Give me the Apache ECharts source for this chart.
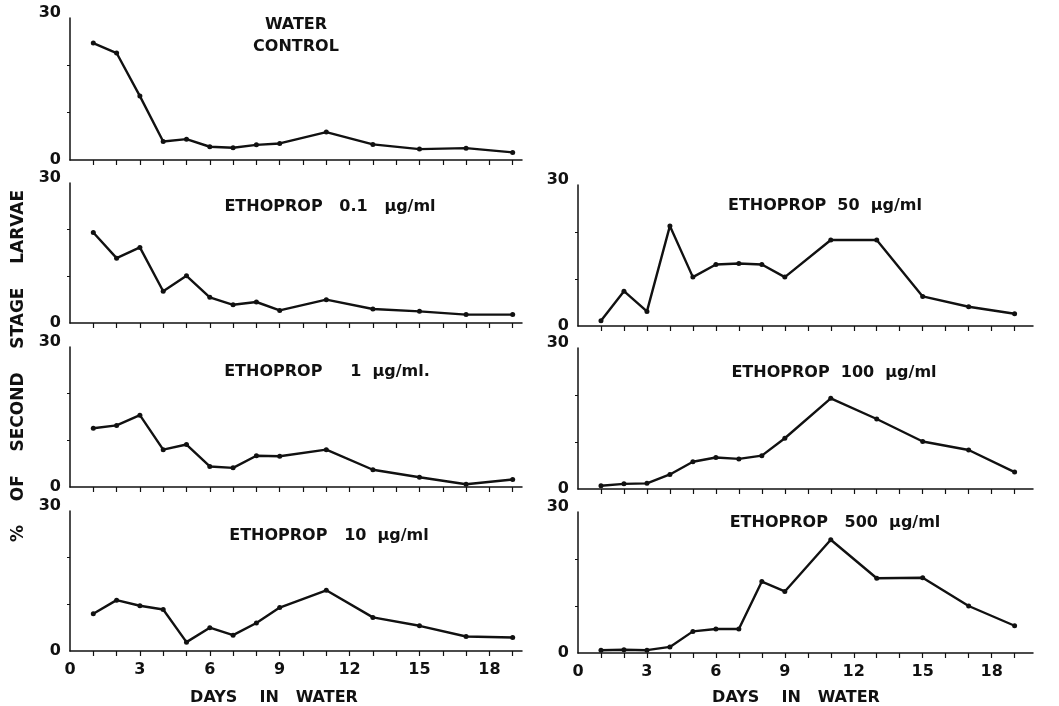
<!DOCTYPE html>
<html>
<head>
<meta charset="utf-8">
<script src="https://cdn.jsdelivr.net/npm/echarts@6/dist/echarts.min.js"></script>
<style>
  html, body { margin: 0; padding: 0; background: #fff; }
  #main { width: 1059px; height: 706px; }
</style>
</head>
<body>
<div id="main"></div>
<script>
// days sampled (same for every panel)
var days = [1, 2, 3, 4, 5, 6, 7, 8, 9, 11, 13, 15, 17, 19];

// % of second stage larvae
var waterControl = [24.7, 22.6, 13.5, 3.9, 4.4, 2.8, 2.6, 3.2, 3.5, 5.9, 3.3, 2.3, 2.5, 1.6];
var etho01 = [19.4, 13.9, 16.2, 6.8, 10.1, 5.5, 3.9, 4.5, 2.7, 5.0, 3.0, 2.5, 1.8, 1.8];
var etho1 = [12.6, 13.2, 15.4, 8.0, 9.1, 4.4, 4.1, 6.7, 6.6, 8.0, 3.7, 2.1, 0.6, 1.6];
var etho10 = [8.0, 10.9, 9.7, 8.9, 1.9, 5.0, 3.4, 6.0, 9.3, 13.0, 7.2, 5.4, 3.1, 2.9];
var etho50 = [1.1, 7.4, 3.1, 21.3, 10.4, 13.1, 13.3, 13.1, 10.4, 18.3, 18.3, 6.3, 4.1, 2.6];
var etho100 = [0.7, 1.1, 1.2, 3.1, 5.8, 6.7, 6.4, 7.1, 10.8, 19.3, 14.9, 10.1, 8.3, 3.6];
var etho500 = [0.6, 0.7, 0.6, 1.3, 4.6, 5.1, 5.1, 15.2, 13.1, 24.1, 15.9, 16.0, 10.0, 5.8];

var xTickValues = [1, 2, 3, 4, 5, 6, 7, 8, 9, 10, 11, 12, 13, 14, 15, 16, 17, 18, 19];
var xLabelValues = [0, 3, 6, 9, 12, 15, 18];
var yLabelValues = [0, 30];
var yTickValues = [10, 20];

var panelTitles = ['WATER\nCONTROL', 'ETHOPROP   0.1   µg/ml', 'ETHOPROP     1  µg/ml.',
    'ETHOPROP   10  µg/ml', 'ETHOPROP  50  µg/ml', 'ETHOPROP  100  µg/ml', 'ETHOPROP   500  µg/ml'];
var panelData = [waterControl, etho01, etho1, etho10, etho50, etho100, etho500];

var font = 'DejaVu Sans';
var ink = '#111';

// panel layout: [left, top, width, height, xMax, showXLabels]
var panels = [
    [70, 18, 452, 142, 19.4, false],
    [70, 183, 452, 140, 19.4, false],
    [70, 347, 452, 140, 19.4, false],
    [70, 511, 452, 140, 19.4, true],
    [578, 185, 455, 141, 19.8, false],
    [578, 348, 455, 141, 19.8, false],
    [578, 512, 455, 141, 19.8, true]
];
var titlePos = [[296, 14], [330, 198], [327, 363], [329, 527], [825, 197], [834, 364], [835, 514]];

var labelStyle = {color: ink, fontFamily: font, fontWeight: 'bold', fontSize: 16};

var grids = [], xAxes = [], yAxes = [], series = [], titles = [];
panels.forEach(function (p, i) {
    grids.push({left: p[0], top: p[1], width: p[2], height: p[3]});
    xAxes.push({
        type: 'value', gridIndex: i, min: 0, max: p[4],
        axisLine: {lineStyle: {color: ink, width: 1.5}},
        axisTick: {show: true, length: 5, customValues: xTickValues, lineStyle: {color: ink, width: 1.2}},
        axisLabel: {show: p[5], customValues: xLabelValues, color: ink, fontFamily: font,
            fontWeight: 'bold', fontSize: 16, margin: 11},
        splitLine: {show: false}
    });
    yAxes.push({
        type: 'value', gridIndex: i, min: 0, max: 30,
        axisLine: {show: true, lineStyle: {color: ink, width: 1.5}},
        axisTick: {show: true, length: 3, customValues: yTickValues, lineStyle: {color: ink}},
        axisLabel: {
            customValues: yLabelValues, margin: 9,
            formatter: function (v) { return v === 30 ? '{t|30}' : '{b|0}'; },
            rich: {
                t: Object.assign({padding: [0, 0, 11, 0]}, labelStyle),
                b: labelStyle
            }
        },
        splitLine: {show: false}
    });
    series.push({
        type: 'line', xAxisIndex: i, yAxisIndex: i,
        data: days.map(function (d, k) { return [d, panelData[i][k]]; }),
        symbol: 'circle', symbolSize: 5,
        lineStyle: {color: ink, width: 2.4},
        itemStyle: {color: ink},
        animation: false
    });
    titles.push({
        text: panelTitles[i], left: titlePos[i][0], top: titlePos[i][1],
        textAlign: 'center', padding: 0,
        textStyle: {color: ink, fontFamily: font, fontWeight: 'bold', fontSize: 16,
            lineHeight: i === 0 ? 22 : 18}
    });
});

titles.push({text: 'DAYS    IN   WATER', left: 274, top: 689, textAlign: 'center', padding: 0,
    textStyle: {color: ink, fontFamily: font, fontWeight: 'bold', fontSize: 16, lineHeight: 18}});
titles.push({text: 'DAYS    IN   WATER', left: 796, top: 689, textAlign: 'center', padding: 0,
    textStyle: {color: ink, fontFamily: font, fontWeight: 'bold', fontSize: 16, lineHeight: 18}});

var myChart = echarts.init(document.getElementById('main'));
var option = {
    backgroundColor: '#fff',
    animation: false,
    title: titles,
    grid: grids,
    xAxis: xAxes,
    yAxis: yAxes,
    series: series,
    graphic: [{
        type: 'text', x: 19, y: 366, rotation: Math.PI / 2,
        style: {text: '%    OF    SECOND    STAGE    LARVAE', fill: ink,
            font: 'bold 17px "DejaVu Sans"', align: 'center', verticalAlign: 'middle'}
    }]
};
myChart.setOption(option);
</script>
</body>
</html>
